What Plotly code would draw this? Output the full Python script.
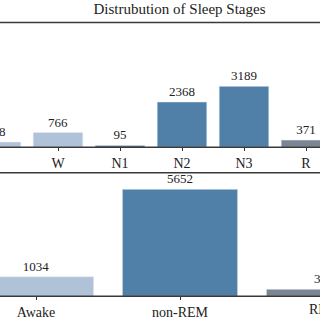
import plotly.graph_objects as go

stages = ["MT", "W", "N1", "N2", "N3", "R"]
stage_counts = [268, 766, 95, 2368, 3189, 371]
stage_colors = ["#b0c2d8", "#b0c2d8", "#4a6a85", "#5080a8", "#5080a8", "#7b8694"]

groups = ["Awake", "non-REM", "REM"]
group_counts = [1034, 5652, 371]
group_colors = ["#b0c2d8", "#5080a8", "#7b8694"]

title = "Distrubution of Sleep Stages"
FONT = "Liberation Serif"
YMAX = 6530

x1_range = [4 / 62, 324 / 62]
x2_range = [-36 / 144, 284 / 144]
y1_dom = [1 - 150 / 320, 1 - 23 / 320]
y2_dom = [1 - 302 / 320, 1 - 176 / 320]

fig = go.Figure()
fig.add_trace(go.Bar(x=stages, y=stage_counts, marker_color=stage_colors, width=0.8,
                     text=[str(v) for v in stage_counts], textposition="outside",
                     textfont=dict(size=13, color="#222", family=FONT),
                     cliponaxis=False, xaxis="x", yaxis="y", showlegend=False, hoverinfo="skip"))
fig.add_trace(go.Bar(x=groups, y=group_counts, marker_color=group_colors, width=0.8,
                     text=[str(v) for v in group_counts], textposition="outside",
                     textfont=dict(size=13, color="#222", family=FONT),
                     cliponaxis=False, xaxis="x2", yaxis="y2", showlegend=False, hoverinfo="skip"))

axis_common = dict(showline=False, ticks="outside", ticklen=3, tickcolor="#333",
                   showgrid=False, zeroline=False,
                   tickfont=dict(size=14, color="#222", family=FONT), type="category")
yaxis_common = dict(showgrid=False, showticklabels=False, zeroline=False,
                    range=[0, YMAX], showline=False)

fig.update_layout(
    width=320, height=320, margin=dict(l=0, r=0, t=0, b=0),
    plot_bgcolor="white", paper_bgcolor="white",
    font=dict(family=FONT),
    title=dict(text=title, x=179.5 / 320, xanchor="center", y=1 - 9 / 320, yanchor="middle",
               font=dict(size=15, color="#222", family=FONT)),
    xaxis=dict(domain=[0, 1], anchor="y", range=x1_range, **axis_common),
    yaxis=dict(domain=y1_dom, anchor="x", **yaxis_common),
    xaxis2=dict(domain=[0, 1], anchor="y2", range=x2_range, **axis_common),
    yaxis2=dict(domain=y2_dom, anchor="x2", **yaxis_common),
)

# spines drawn as paper-referenced lines at the axes' domain edges
for dom in (y1_dom, y2_dom):
    for yy in dom:
        fig.add_shape(type="line", xref="paper", yref="paper", x0=0, x1=1, y0=yy, y1=yy,
                      line=dict(color="#3a3a3a", width=1.5), layer="above")


def paper_x(idx, rng):
    return (idx - rng[0]) / (rng[1] - rng[0])


def paper_y(val, dom):
    return dom[0] + val / YMAX * (dom[1] - dom[0])


# labels for bars whose centres fall just outside the visible axis range
for idx, cats, vals, rng, dom in [(0, stages, stage_counts, x1_range, y1_dom),
                                  (2, groups, group_counts, x2_range, y2_dom)]:
    fig.add_annotation(x=paper_x(idx, rng), y=paper_y(vals[idx], dom), xref="paper", yref="paper",
                       text=str(vals[idx]), showarrow=False, xanchor="center", yanchor="bottom",
                       yshift=1, font=dict(size=13, color="#222", family=FONT))
fig.add_annotation(x=paper_x(2, x2_range), y=y2_dom[0], xref="paper", yref="paper",
                   text=groups[2], showarrow=False, xanchor="center", yanchor="top", yshift=-4,
                   font=dict(size=14, color="#222", family=FONT))

fig.write_html("out.html")
